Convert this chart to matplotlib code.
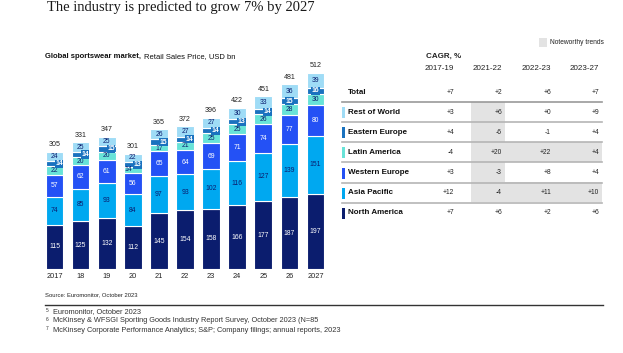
import numpy as np
import matplotlib.pyplot as plt
from matplotlib.patches import Rectangle

plt.rcParams['font.family'] = ['Liberation Sans', 'DejaVu Sans']

years = ["2017", "18", "19", "20", "21", "22", "23", "24", "25", "26", "2027"]
north_america = [115, 125, 132, 112, 145, 154, 158, 166, 177, 187, 197]
asia_pacific = [74, 85, 93, 84, 97, 93, 102, 116, 127, 139, 151]
western_europe = [57, 62, 61, 56, 65, 64, 69, 71, 74, 77, 80]
latin_america = [22, 20, 20, 14, 17, 21, 25, 25, 26, 28, 30]
eastern_europe = [14, 14, 15, 13, 15, 14, 14, 13, 14, 15, 16]
rest_of_world = [24, 25, 25, 22, 26, 27, 27, 30, 33, 36, 39]
totals = [305, 331, 347, 301, 365, 372, 396, 422, 451, 481, 512]

cagr_periods = ["2017-19", "2021-22", "2022-23", "2023-27"]
row_names = ["Total", "Rest of World", "Eastern Europe", "Latin America",
             "Western Europe", "Asia Pacific", "North America"]
cagr_total = ["+7", "+2", "+6", "+7"]
cagr_row = ["+3", "+6", "+0", "+9"]
cagr_ee = ["+4", "-6", "-1", "+4"]
cagr_la = ["-4", "+20", "+22", "+4"]
cagr_we = ["+3", "-3", "+8", "+4"]
cagr_ap = ["+12", "-4", "+11", "+10"]
cagr_na = ["+7", "+6", "+2", "+6"]

c_na = "#0b1d6e"
c_ap = "#00a8f0"
c_we = "#2451f5"
c_la = "#68e3d8"
c_ee = "#1a72bf"
c_row = "#9fdcf6"

fig = plt.figure(figsize=(6.23, 3.53), dpi=100)
W, H = 623, 353

# bar chart axes
x0, x1, yb, yt = 38.8, 331.2, 269, 54.6
ax = fig.add_axes([x0 / W, 1 - yb / H, (x1 - x0) / W, (yb - yt) / H])
ax.set_xlim(-0.6, 10.6)
ax.set_ylim(0, 560)
ax.axis("off")

x = np.arange(len(years))
series = [(north_america, c_na, "white"),
          (asia_pacific, c_ap, "#0b1d6e"),
          (western_europe, c_we, "white"),
          (latin_america, c_la, "#0b1d6e"),
          (eastern_europe, c_ee, "white"),
          (rest_of_world, c_row, "#0b1d6e")]
bottom = np.zeros(len(years))
for vals, col, tcol in series:
    vals = np.array(vals)
    ax.bar(x, vals, 0.68, bottom=bottom, color=col, edgecolor="white", linewidth=0.8)
    for i, v in enumerate(vals):
        yc = bottom[i] + v / 2
        if col == c_ee:
            dx = 0.17 if i < 9 else 0
            ax.text(i + dx, yc, str(v), ha="center", va="center", fontsize=4.9,
                    color="white", fontweight="bold",
                    bbox=dict(boxstyle="square,pad=0.08", fc=c_ee, ec="none"))
        else:
            dx = -0.17 if (col == c_la and v < 16) else 0
            ax.text(i + dx, yc, str(v), ha="center", va="center", fontsize=4.9, color=tcol)
    bottom += vals

for i, t in enumerate(totals):
    ax.annotate(str(t), (i, bottom[i]), xytext=(0, 2.5), textcoords="offset points",
                ha="center", va="bottom", fontsize=5.1, color="#222222")

# overlay axes in pixel coordinates
ov = fig.add_axes([0, 0, 1, 1])
ov.set_xlim(0, W)
ov.set_ylim(H, 0)
ov.axis("off")

for i, yr in enumerate(years):
    px = x0 + (i + 0.6) / 11.2 * (x1 - x0)
    ov.text(px, 276, yr, ha="center", va="center", fontsize=5.3, color="#222222")

ov.text(47, 8, "The industry is predicted to grow 7% by 2027", fontsize=10.5,
        family="Liberation Serif", color="#1a1a1a", va="center")
ov.text(45, 57, "Global sportswear market,", fontsize=5.5, fontweight="bold",
        va="center", color="#111111")
ov.text(144, 57, "Retail Sales Price, USD bn", fontsize=5.5, va="center", color="#111111")

# table
col_right = [454, 502, 551, 599]
row_y = [92, 112, 132, 152, 173, 193, 213]
row_vals = [cagr_total, cagr_row, cagr_ee, cagr_la, cagr_we, cagr_ap, cagr_na]
row_cols = [None, c_row, c_ee, c_la, c_we, c_ap, c_na]

gray = "#e3e3e3"
ov.add_patch(Rectangle((471, 102), 34, 100, fc=gray, ec="none"))
ov.add_patch(Rectangle((471, 142), 131, 20, fc=gray, ec="none"))
ov.add_patch(Rectangle((471, 182), 131, 20, fc=gray, ec="none"))
ov.add_patch(Rectangle((539, 38), 8, 9, fc=gray, ec="none"))
ov.text(550, 43, "Noteworthy trends", fontsize=4.8, va="center", color="#222222")

ov.text(426, 56, "CAGR, %", fontsize=5.8, fontweight="bold", va="center", color="#222222")
for cx, p in zip(col_right, cagr_periods):
    ov.text(cx, 69, p, fontsize=5.8, ha="right", va="center", color="#222222")

for k, (name, vals, col, ry) in enumerate(zip(row_names, row_vals, row_cols, row_y)):
    ov.text(348, ry, name, fontsize=5.8, fontweight="bold", va="center", color="#111111")
    if col is not None:
        ov.add_patch(Rectangle((342, ry - 5.5), 3, 11, fc=col, ec="none"))
    for cx, v in zip(col_right, vals):
        ov.text(cx, ry, v, fontsize=4.8, ha="right", va="center", color="#222222")
    if k < len(row_names) - 1:
        ly = ry + 10
        ov.plot([342, 602], [ly, ly], color="#999999" if k == 0 else "#b5b5b5", lw=1.2)

# source and footnotes
ov.text(45, 295, "Source: Euromonitor, October 2023", fontsize=4.2, va="center", color="#222222")
ov.plot([45, 603], [305, 305], color="#333333", lw=1.0)
notes = ["Euromonitor, October 2023",
         "McKinsey & WFSGI Sporting Goods Industry Report Survey, October 2023 (N=85",
         "McKinsey Corporate Performance Analytics; S&P; Company filings; annual reports, 2023"]
for j, n in enumerate(notes):
    yy = 312 + j * 9
    ov.text(46, yy - 1.5, str(5 + j), fontsize=3.5, va="center", color="#333333")
    ov.text(53, yy, n, fontsize=5.3, va="center", color="#333333")

fig.savefig("out.png", dpi=100)
